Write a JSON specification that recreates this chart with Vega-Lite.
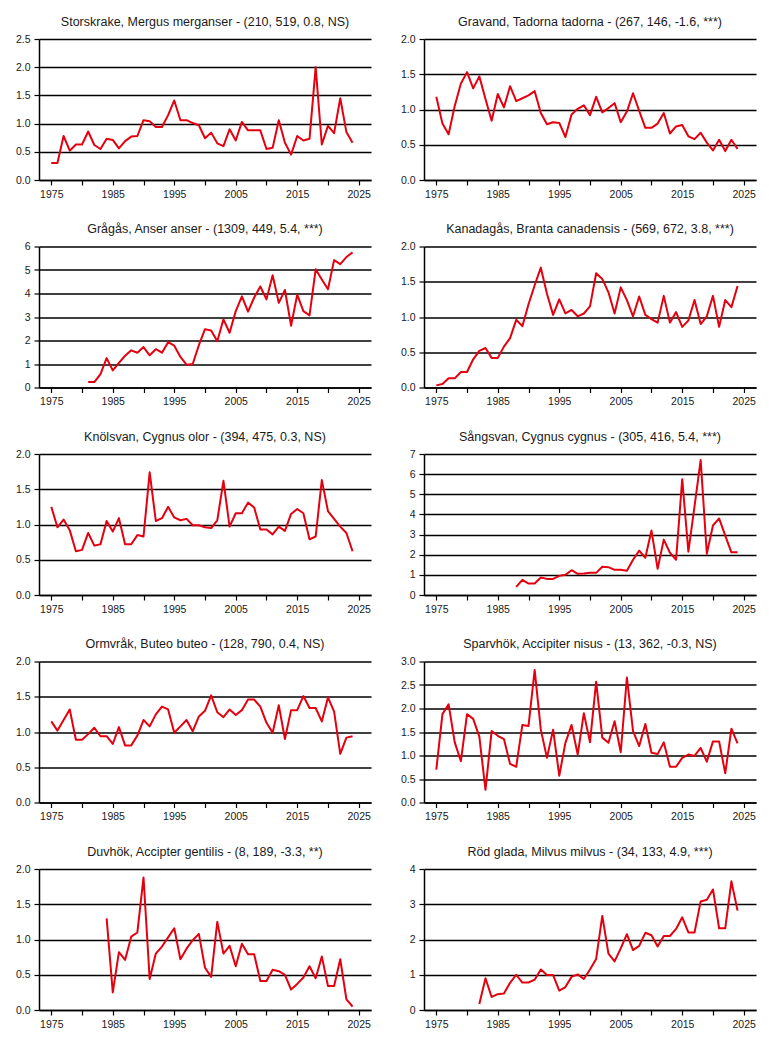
{
  "$schema": "https://vega.github.io/schema/vega-lite/v6.json",
  "description": "Index trends 1975-2024 for ten bird species, one panel per species",
  "background": "white",
  "padding": {"left": 5, "top": 15, "right": 5, "bottom": 2},
  "columns": 2,
  "spacing": {"row": 22.5, "column": 19},
  "datasets": {
    "storskrake": [
      {"year": 1975, "index": 0.3}, {"year": 1976, "index": 0.3}, {"year": 1977, "index": 0.78}, {"year": 1978, "index": 0.52},
      {"year": 1979, "index": 0.63}, {"year": 1980, "index": 0.63}, {"year": 1981, "index": 0.86}, {"year": 1982, "index": 0.62},
      {"year": 1983, "index": 0.55}, {"year": 1984, "index": 0.73}, {"year": 1985, "index": 0.71}, {"year": 1986, "index": 0.56},
      {"year": 1987, "index": 0.69}, {"year": 1988, "index": 0.77}, {"year": 1989, "index": 0.78}, {"year": 1990, "index": 1.06},
      {"year": 1991, "index": 1.04}, {"year": 1992, "index": 0.94}, {"year": 1993, "index": 0.94}, {"year": 1994, "index": 1.15},
      {"year": 1995, "index": 1.41}, {"year": 1996, "index": 1.06}, {"year": 1997, "index": 1.06}, {"year": 1998, "index": 1.01},
      {"year": 1999, "index": 0.97}, {"year": 2000, "index": 0.74}, {"year": 2001, "index": 0.84}, {"year": 2002, "index": 0.65},
      {"year": 2003, "index": 0.6}, {"year": 2004, "index": 0.9}, {"year": 2005, "index": 0.7}, {"year": 2006, "index": 1.03},
      {"year": 2007, "index": 0.88}, {"year": 2008, "index": 0.88}, {"year": 2009, "index": 0.88}, {"year": 2010, "index": 0.55},
      {"year": 2011, "index": 0.57}, {"year": 2012, "index": 1.06}, {"year": 2013, "index": 0.66}, {"year": 2014, "index": 0.45},
      {"year": 2015, "index": 0.78}, {"year": 2016, "index": 0.7}, {"year": 2017, "index": 0.73}, {"year": 2018, "index": 2.0},
      {"year": 2019, "index": 0.63}, {"year": 2020, "index": 0.96}, {"year": 2021, "index": 0.83}, {"year": 2022, "index": 1.45},
      {"year": 2023, "index": 0.85}, {"year": 2024, "index": 0.66}
    ],
    "gravand": [
      {"year": 1975, "index": 1.18}, {"year": 1976, "index": 0.8}, {"year": 1977, "index": 0.65}, {"year": 1978, "index": 1.05},
      {"year": 1979, "index": 1.37}, {"year": 1980, "index": 1.53}, {"year": 1981, "index": 1.3}, {"year": 1982, "index": 1.47},
      {"year": 1983, "index": 1.15}, {"year": 1984, "index": 0.84}, {"year": 1985, "index": 1.22}, {"year": 1986, "index": 1.03},
      {"year": 1987, "index": 1.33}, {"year": 1988, "index": 1.12}, {"year": 1989, "index": 1.16}, {"year": 1990, "index": 1.2},
      {"year": 1991, "index": 1.26}, {"year": 1992, "index": 0.95}, {"year": 1993, "index": 0.79}, {"year": 1994, "index": 0.82},
      {"year": 1995, "index": 0.81}, {"year": 1996, "index": 0.61}, {"year": 1997, "index": 0.93}, {"year": 1998, "index": 1.01},
      {"year": 1999, "index": 1.06}, {"year": 2000, "index": 0.92}, {"year": 2001, "index": 1.18}, {"year": 2002, "index": 0.96},
      {"year": 2003, "index": 1.02}, {"year": 2004, "index": 1.09}, {"year": 2005, "index": 0.82}, {"year": 2006, "index": 0.97},
      {"year": 2007, "index": 1.23}, {"year": 2008, "index": 0.98}, {"year": 2009, "index": 0.74}, {"year": 2010, "index": 0.74},
      {"year": 2011, "index": 0.8}, {"year": 2012, "index": 0.95}, {"year": 2013, "index": 0.66}, {"year": 2014, "index": 0.76},
      {"year": 2015, "index": 0.78}, {"year": 2016, "index": 0.62}, {"year": 2017, "index": 0.58}, {"year": 2018, "index": 0.67},
      {"year": 2019, "index": 0.53}, {"year": 2020, "index": 0.42}, {"year": 2021, "index": 0.57}, {"year": 2022, "index": 0.41},
      {"year": 2023, "index": 0.57}, {"year": 2024, "index": 0.44}
    ],
    "gragas": [
      {"year": 1981, "index": 0.23}, {"year": 1982, "index": 0.23}, {"year": 1983, "index": 0.57}, {"year": 1984, "index": 1.25},
      {"year": 1985, "index": 0.73}, {"year": 1986, "index": 1.05}, {"year": 1987, "index": 1.35}, {"year": 1988, "index": 1.58},
      {"year": 1989, "index": 1.48}, {"year": 1990, "index": 1.72}, {"year": 1991, "index": 1.37}, {"year": 1992, "index": 1.63},
      {"year": 1993, "index": 1.48}, {"year": 1994, "index": 1.93}, {"year": 1995, "index": 1.78}, {"year": 1996, "index": 1.3},
      {"year": 1997, "index": 0.97}, {"year": 1998, "index": 1.0}, {"year": 1999, "index": 1.8}, {"year": 2000, "index": 2.48},
      {"year": 2001, "index": 2.43}, {"year": 2002, "index": 1.97}, {"year": 2003, "index": 2.9}, {"year": 2004, "index": 2.33},
      {"year": 2005, "index": 3.25}, {"year": 2006, "index": 3.88}, {"year": 2007, "index": 3.23}, {"year": 2008, "index": 3.83},
      {"year": 2009, "index": 4.3}, {"year": 2010, "index": 3.75}, {"year": 2011, "index": 4.78}, {"year": 2012, "index": 3.6},
      {"year": 2013, "index": 4.15}, {"year": 2014, "index": 2.63}, {"year": 2015, "index": 3.95}, {"year": 2016, "index": 3.25},
      {"year": 2017, "index": 3.07}, {"year": 2018, "index": 5.03}, {"year": 2019, "index": 4.6}, {"year": 2020, "index": 4.18},
      {"year": 2021, "index": 5.42}, {"year": 2022, "index": 5.25}, {"year": 2023, "index": 5.55}, {"year": 2024, "index": 5.75}
    ],
    "kanadagas": [
      {"year": 1975, "index": 0.03}, {"year": 1976, "index": 0.05}, {"year": 1977, "index": 0.13}, {"year": 1978, "index": 0.13},
      {"year": 1979, "index": 0.22}, {"year": 1980, "index": 0.22}, {"year": 1981, "index": 0.4}, {"year": 1982, "index": 0.52},
      {"year": 1983, "index": 0.56}, {"year": 1984, "index": 0.42}, {"year": 1985, "index": 0.42}, {"year": 1986, "index": 0.58},
      {"year": 1987, "index": 0.7}, {"year": 1988, "index": 0.96}, {"year": 1989, "index": 0.87}, {"year": 1990, "index": 1.18},
      {"year": 1991, "index": 1.45}, {"year": 1992, "index": 1.7}, {"year": 1993, "index": 1.33}, {"year": 1994, "index": 1.03},
      {"year": 1995, "index": 1.25}, {"year": 1996, "index": 1.05}, {"year": 1997, "index": 1.1}, {"year": 1998, "index": 1.01},
      {"year": 1999, "index": 1.05}, {"year": 2000, "index": 1.15}, {"year": 2001, "index": 1.62}, {"year": 2002, "index": 1.54},
      {"year": 2003, "index": 1.35}, {"year": 2004, "index": 1.05}, {"year": 2005, "index": 1.42}, {"year": 2006, "index": 1.24},
      {"year": 2007, "index": 1.01}, {"year": 2008, "index": 1.29}, {"year": 2009, "index": 1.03}, {"year": 2010, "index": 0.97},
      {"year": 2011, "index": 0.92}, {"year": 2012, "index": 1.3}, {"year": 2013, "index": 0.92}, {"year": 2014, "index": 1.07},
      {"year": 2015, "index": 0.86}, {"year": 2016, "index": 0.95}, {"year": 2017, "index": 1.24}, {"year": 2018, "index": 0.9},
      {"year": 2019, "index": 1.01}, {"year": 2020, "index": 1.3}, {"year": 2021, "index": 0.86}, {"year": 2022, "index": 1.24},
      {"year": 2023, "index": 1.14}, {"year": 2024, "index": 1.44}
    ],
    "knolsvan": [
      {"year": 1975, "index": 1.25}, {"year": 1976, "index": 0.96}, {"year": 1977, "index": 1.07}, {"year": 1978, "index": 0.92},
      {"year": 1979, "index": 0.62}, {"year": 1980, "index": 0.64}, {"year": 1981, "index": 0.88}, {"year": 1982, "index": 0.7},
      {"year": 1983, "index": 0.72}, {"year": 1984, "index": 1.05}, {"year": 1985, "index": 0.9}, {"year": 1986, "index": 1.09},
      {"year": 1987, "index": 0.72}, {"year": 1988, "index": 0.72}, {"year": 1989, "index": 0.85}, {"year": 1990, "index": 0.83},
      {"year": 1991, "index": 1.74}, {"year": 1992, "index": 1.05}, {"year": 1993, "index": 1.09}, {"year": 1994, "index": 1.25},
      {"year": 1995, "index": 1.1}, {"year": 1996, "index": 1.06}, {"year": 1997, "index": 1.08}, {"year": 1998, "index": 0.99},
      {"year": 1999, "index": 0.99}, {"year": 2000, "index": 0.96}, {"year": 2001, "index": 0.95}, {"year": 2002, "index": 1.06},
      {"year": 2003, "index": 1.62}, {"year": 2004, "index": 0.97}, {"year": 2005, "index": 1.16}, {"year": 2006, "index": 1.16},
      {"year": 2007, "index": 1.31}, {"year": 2008, "index": 1.24}, {"year": 2009, "index": 0.93}, {"year": 2010, "index": 0.93},
      {"year": 2011, "index": 0.86}, {"year": 2012, "index": 0.97}, {"year": 2013, "index": 0.91}, {"year": 2014, "index": 1.15},
      {"year": 2015, "index": 1.22}, {"year": 2016, "index": 1.16}, {"year": 2017, "index": 0.79}, {"year": 2018, "index": 0.83},
      {"year": 2019, "index": 1.63}, {"year": 2020, "index": 1.19}, {"year": 2021, "index": 1.08}, {"year": 2022, "index": 0.97},
      {"year": 2023, "index": 0.88}, {"year": 2024, "index": 0.62}
    ],
    "sangsvan": [
      {"year": 1988, "index": 0.4}, {"year": 1989, "index": 0.75}, {"year": 1990, "index": 0.57}, {"year": 1991, "index": 0.57},
      {"year": 1992, "index": 0.87}, {"year": 1993, "index": 0.8}, {"year": 1994, "index": 0.8}, {"year": 1995, "index": 0.95},
      {"year": 1996, "index": 1.0}, {"year": 1997, "index": 1.23}, {"year": 1998, "index": 1.05}, {"year": 1999, "index": 1.07},
      {"year": 2000, "index": 1.1}, {"year": 2001, "index": 1.1}, {"year": 2002, "index": 1.4}, {"year": 2003, "index": 1.38},
      {"year": 2004, "index": 1.25}, {"year": 2005, "index": 1.25}, {"year": 2006, "index": 1.2}, {"year": 2007, "index": 1.75},
      {"year": 2008, "index": 2.2}, {"year": 2009, "index": 1.85}, {"year": 2010, "index": 3.2}, {"year": 2011, "index": 1.3},
      {"year": 2012, "index": 2.75}, {"year": 2013, "index": 2.1}, {"year": 2014, "index": 1.75}, {"year": 2015, "index": 5.75},
      {"year": 2016, "index": 2.15}, {"year": 2017, "index": 4.4}, {"year": 2018, "index": 6.7}, {"year": 2019, "index": 2.05},
      {"year": 2020, "index": 3.45}, {"year": 2021, "index": 3.8}, {"year": 2022, "index": 2.95}, {"year": 2023, "index": 2.12},
      {"year": 2024, "index": 2.12}
    ],
    "ormvrak": [
      {"year": 1975, "index": 1.15}, {"year": 1976, "index": 1.02}, {"year": 1977, "index": 1.17}, {"year": 1978, "index": 1.32},
      {"year": 1979, "index": 0.89}, {"year": 1980, "index": 0.89}, {"year": 1981, "index": 0.97}, {"year": 1982, "index": 1.06},
      {"year": 1983, "index": 0.94}, {"year": 1984, "index": 0.94}, {"year": 1985, "index": 0.83}, {"year": 1986, "index": 1.07},
      {"year": 1987, "index": 0.81}, {"year": 1988, "index": 0.81}, {"year": 1989, "index": 0.95}, {"year": 1990, "index": 1.17},
      {"year": 1991, "index": 1.08}, {"year": 1992, "index": 1.25}, {"year": 1993, "index": 1.36}, {"year": 1994, "index": 1.32},
      {"year": 1995, "index": 0.99}, {"year": 1996, "index": 1.08}, {"year": 1997, "index": 1.17}, {"year": 1998, "index": 1.01},
      {"year": 1999, "index": 1.22}, {"year": 2000, "index": 1.3}, {"year": 2001, "index": 1.52}, {"year": 2002, "index": 1.28},
      {"year": 2003, "index": 1.21}, {"year": 2004, "index": 1.32}, {"year": 2005, "index": 1.24}, {"year": 2006, "index": 1.31},
      {"year": 2007, "index": 1.46}, {"year": 2008, "index": 1.46}, {"year": 2009, "index": 1.36}, {"year": 2010, "index": 1.13},
      {"year": 2011, "index": 0.99}, {"year": 2012, "index": 1.38}, {"year": 2013, "index": 0.9}, {"year": 2014, "index": 1.31},
      {"year": 2015, "index": 1.31}, {"year": 2016, "index": 1.51}, {"year": 2017, "index": 1.34}, {"year": 2018, "index": 1.34},
      {"year": 2019, "index": 1.15}, {"year": 2020, "index": 1.49}, {"year": 2021, "index": 1.29}, {"year": 2022, "index": 0.69},
      {"year": 2023, "index": 0.92}, {"year": 2024, "index": 0.94}
    ],
    "sparvhok": [
      {"year": 1975, "index": 0.7}, {"year": 1976, "index": 1.88}, {"year": 1977, "index": 2.09}, {"year": 1978, "index": 1.28},
      {"year": 1979, "index": 0.88}, {"year": 1980, "index": 1.88}, {"year": 1981, "index": 1.78}, {"year": 1982, "index": 1.4},
      {"year": 1983, "index": 0.27}, {"year": 1984, "index": 1.52}, {"year": 1985, "index": 1.42}, {"year": 1986, "index": 1.35},
      {"year": 1987, "index": 0.82}, {"year": 1988, "index": 0.76}, {"year": 1989, "index": 1.65}, {"year": 1990, "index": 1.63},
      {"year": 1991, "index": 2.82}, {"year": 1992, "index": 1.55}, {"year": 1993, "index": 0.95}, {"year": 1994, "index": 1.55},
      {"year": 1995, "index": 0.57}, {"year": 1996, "index": 1.27}, {"year": 1997, "index": 1.65}, {"year": 1998, "index": 1.02},
      {"year": 1999, "index": 1.9}, {"year": 2000, "index": 1.28}, {"year": 2001, "index": 2.57}, {"year": 2002, "index": 1.38},
      {"year": 2003, "index": 1.27}, {"year": 2004, "index": 1.73}, {"year": 2005, "index": 1.07}, {"year": 2006, "index": 2.66},
      {"year": 2007, "index": 1.52}, {"year": 2008, "index": 1.2}, {"year": 2009, "index": 1.67}, {"year": 2010, "index": 1.06},
      {"year": 2011, "index": 1.03}, {"year": 2012, "index": 1.28}, {"year": 2013, "index": 0.76}, {"year": 2014, "index": 0.76},
      {"year": 2015, "index": 0.95}, {"year": 2016, "index": 1.02}, {"year": 2017, "index": 0.99}, {"year": 2018, "index": 1.16},
      {"year": 2019, "index": 0.87}, {"year": 2020, "index": 1.3}, {"year": 2021, "index": 1.3}, {"year": 2022, "index": 0.62},
      {"year": 2023, "index": 1.57}, {"year": 2024, "index": 1.26}
    ],
    "duvhok": [
      {"year": 1984, "index": 1.3}, {"year": 1985, "index": 0.25}, {"year": 1986, "index": 0.82}, {"year": 1987, "index": 0.71},
      {"year": 1988, "index": 1.04}, {"year": 1989, "index": 1.1}, {"year": 1990, "index": 1.88}, {"year": 1991, "index": 0.44},
      {"year": 1992, "index": 0.8}, {"year": 1993, "index": 0.9}, {"year": 1994, "index": 1.03}, {"year": 1995, "index": 1.16},
      {"year": 1996, "index": 0.72}, {"year": 1997, "index": 0.87}, {"year": 1998, "index": 0.99}, {"year": 1999, "index": 1.08},
      {"year": 2000, "index": 0.6}, {"year": 2001, "index": 0.47}, {"year": 2002, "index": 1.25}, {"year": 2003, "index": 0.8},
      {"year": 2004, "index": 0.91}, {"year": 2005, "index": 0.62}, {"year": 2006, "index": 0.94}, {"year": 2007, "index": 0.79},
      {"year": 2008, "index": 0.79}, {"year": 2009, "index": 0.41}, {"year": 2010, "index": 0.41}, {"year": 2011, "index": 0.57},
      {"year": 2012, "index": 0.55}, {"year": 2013, "index": 0.5}, {"year": 2014, "index": 0.29}, {"year": 2015, "index": 0.37},
      {"year": 2016, "index": 0.46}, {"year": 2017, "index": 0.62}, {"year": 2018, "index": 0.45}, {"year": 2019, "index": 0.76},
      {"year": 2020, "index": 0.34}, {"year": 2021, "index": 0.34}, {"year": 2022, "index": 0.72}, {"year": 2023, "index": 0.15},
      {"year": 2024, "index": 0.05}
    ],
    "rodglada": [
      {"year": 1982, "index": 0.17}, {"year": 1983, "index": 0.9}, {"year": 1984, "index": 0.37}, {"year": 1985, "index": 0.45},
      {"year": 1986, "index": 0.47}, {"year": 1987, "index": 0.77}, {"year": 1988, "index": 1.0}, {"year": 1989, "index": 0.78},
      {"year": 1990, "index": 0.78}, {"year": 1991, "index": 0.86}, {"year": 1992, "index": 1.15}, {"year": 1993, "index": 0.99},
      {"year": 1994, "index": 0.99}, {"year": 1995, "index": 0.55}, {"year": 1996, "index": 0.65}, {"year": 1997, "index": 0.94},
      {"year": 1998, "index": 1.01}, {"year": 1999, "index": 0.88}, {"year": 2000, "index": 1.15}, {"year": 2001, "index": 1.45},
      {"year": 2002, "index": 2.67}, {"year": 2003, "index": 1.6}, {"year": 2004, "index": 1.38}, {"year": 2005, "index": 1.75},
      {"year": 2006, "index": 2.15}, {"year": 2007, "index": 1.7}, {"year": 2008, "index": 1.82}, {"year": 2009, "index": 2.19},
      {"year": 2010, "index": 2.12}, {"year": 2011, "index": 1.8}, {"year": 2012, "index": 2.1}, {"year": 2013, "index": 2.1},
      {"year": 2014, "index": 2.3}, {"year": 2015, "index": 2.63}, {"year": 2016, "index": 2.2}, {"year": 2017, "index": 2.2},
      {"year": 2018, "index": 3.08}, {"year": 2019, "index": 3.13}, {"year": 2020, "index": 3.42}, {"year": 2021, "index": 2.32},
      {"year": 2022, "index": 2.32}, {"year": 2023, "index": 3.65}, {"year": 2024, "index": 2.82}
    ]
  },
  "concat": [
    {
      "title": "Storskrake, Mergus merganser - (210, 519, 0.8, NS)",
      "width": 332, "height": 141,
      "data": {"name": "storskrake"},
      "mark": "line",
      "encoding": {
        "x": {"field": "year", "type": "quantitative", "scale": {"domain": [1973, 2027], "nice": false, "zero": false}},
        "y": {"field": "index", "type": "quantitative", "scale": {"domain": [0, 2.5], "nice": false},
              "axis": {"values": [0, 0.5, 1, 1.5, 2, 2.5], "format": ".1f"}}
      }
    },
    {
      "title": "Gravand, Tadorna tadorna - (267, 146, -1.6, ***)",
      "width": 332, "height": 141,
      "data": {"name": "gravand"},
      "mark": "line",
      "encoding": {
        "x": {"field": "year", "type": "quantitative", "scale": {"domain": [1973, 2027], "nice": false, "zero": false}},
        "y": {"field": "index", "type": "quantitative", "scale": {"domain": [0, 2], "nice": false},
              "axis": {"values": [0, 0.5, 1, 1.5, 2], "format": ".1f"}}
      }
    },
    {
      "title": "Grågås, Anser anser - (1309, 449, 5.4, ***)",
      "width": 332, "height": 141,
      "data": {"name": "gragas"},
      "mark": "line",
      "encoding": {
        "x": {"field": "year", "type": "quantitative", "scale": {"domain": [1973, 2027], "nice": false, "zero": false}},
        "y": {"field": "index", "type": "quantitative", "scale": {"domain": [0, 6], "nice": false},
              "axis": {"values": [0, 1, 2, 3, 4, 5, 6], "format": "d"}}
      }
    },
    {
      "title": "Kanadagås, Branta canadensis - (569, 672, 3.8, ***)",
      "width": 332, "height": 141,
      "data": {"name": "kanadagas"},
      "mark": "line",
      "encoding": {
        "x": {"field": "year", "type": "quantitative", "scale": {"domain": [1973, 2027], "nice": false, "zero": false}},
        "y": {"field": "index", "type": "quantitative", "scale": {"domain": [0, 2], "nice": false},
              "axis": {"values": [0, 0.5, 1, 1.5, 2], "format": ".1f"}}
      }
    },
    {
      "title": "Knölsvan, Cygnus olor - (394, 475, 0.3, NS)",
      "width": 332, "height": 141,
      "data": {"name": "knolsvan"},
      "mark": "line",
      "encoding": {
        "x": {"field": "year", "type": "quantitative", "scale": {"domain": [1973, 2027], "nice": false, "zero": false}},
        "y": {"field": "index", "type": "quantitative", "scale": {"domain": [0, 2], "nice": false},
              "axis": {"values": [0, 0.5, 1, 1.5, 2], "format": ".1f"}}
      }
    },
    {
      "title": "Sångsvan, Cygnus cygnus - (305, 416, 5.4, ***)",
      "width": 332, "height": 141,
      "data": {"name": "sangsvan"},
      "mark": "line",
      "encoding": {
        "x": {"field": "year", "type": "quantitative", "scale": {"domain": [1973, 2027], "nice": false, "zero": false}},
        "y": {"field": "index", "type": "quantitative", "scale": {"domain": [0, 7], "nice": false},
              "axis": {"values": [0, 1, 2, 3, 4, 5, 6, 7], "format": "d"}}
      }
    },
    {
      "title": "Ormvråk, Buteo buteo - (128, 790, 0.4, NS)",
      "width": 332, "height": 141,
      "data": {"name": "ormvrak"},
      "mark": "line",
      "encoding": {
        "x": {"field": "year", "type": "quantitative", "scale": {"domain": [1973, 2027], "nice": false, "zero": false}},
        "y": {"field": "index", "type": "quantitative", "scale": {"domain": [0, 2], "nice": false},
              "axis": {"values": [0, 0.5, 1, 1.5, 2], "format": ".1f"}}
      }
    },
    {
      "title": "Sparvhök, Accipiter nisus - (13, 362, -0.3, NS)",
      "width": 332, "height": 141,
      "data": {"name": "sparvhok"},
      "mark": "line",
      "encoding": {
        "x": {"field": "year", "type": "quantitative", "scale": {"domain": [1973, 2027], "nice": false, "zero": false}},
        "y": {"field": "index", "type": "quantitative", "scale": {"domain": [0, 3], "nice": false},
              "axis": {"values": [0, 0.5, 1, 1.5, 2, 2.5, 3], "format": ".1f"}}
      }
    },
    {
      "title": "Duvhök, Accipter gentilis - (8, 189, -3.3, **)",
      "width": 332, "height": 141,
      "data": {"name": "duvhok"},
      "mark": "line",
      "encoding": {
        "x": {"field": "year", "type": "quantitative", "scale": {"domain": [1973, 2027], "nice": false, "zero": false}},
        "y": {"field": "index", "type": "quantitative", "scale": {"domain": [0, 2], "nice": false},
              "axis": {"values": [0, 0.5, 1, 1.5, 2], "format": ".1f"}}
      }
    },
    {
      "title": "Röd glada, Milvus milvus - (34, 133, 4.9, ***)",
      "width": 332, "height": 141,
      "data": {"name": "rodglada"},
      "mark": "line",
      "encoding": {
        "x": {"field": "year", "type": "quantitative", "scale": {"domain": [1973, 2027], "nice": false, "zero": false}},
        "y": {"field": "index", "type": "quantitative", "scale": {"domain": [0, 4], "nice": false},
              "axis": {"values": [0, 1, 2, 3, 4], "format": "d"}}
      }
    }
  ],
  "config": {
    "view": {"stroke": null},
    "font": "Liberation Sans",
    "title": {"fontSize": 12.5, "fontWeight": "normal", "color": "#1a1a1a", "offset": 6, "anchor": "middle"},
    "line": {"color": "#e3000f", "strokeWidth": 2, "strokeJoin": "round"},
    "axis": {
      "title": null,
      "domainColor": "black",
      "domainWidth": 1.5,
      "tickColor": "black",
      "tickWidth": 1.2,
      "tickSize": 5,
      "labelColor": "#1a1a1a",
      "labelFont": "Liberation Sans",
      "labelFontSize": 10.5
    },
    "axisX": {
      "values": [1975, 1980, 1985, 1990, 1995, 2000, 2005, 2010, 2015, 2020, 2025],
      "format": "d",
      "labelExpr": "datum.value % 10 == 5 ? datum.label : ''",
      "labelOverlap": false,
      "labelFlush": false,
      "labelPadding": 4,
      "grid": false,
      "minExtent": 20,
      "maxExtent": 20
    },
    "axisY": {
      "grid": true,
      "gridColor": "black",
      "gridWidth": 1.5,
      "gridOpacity": 1,
      "labelPadding": 4,
      "minExtent": 34,
      "maxExtent": 34
    }
  }
}
